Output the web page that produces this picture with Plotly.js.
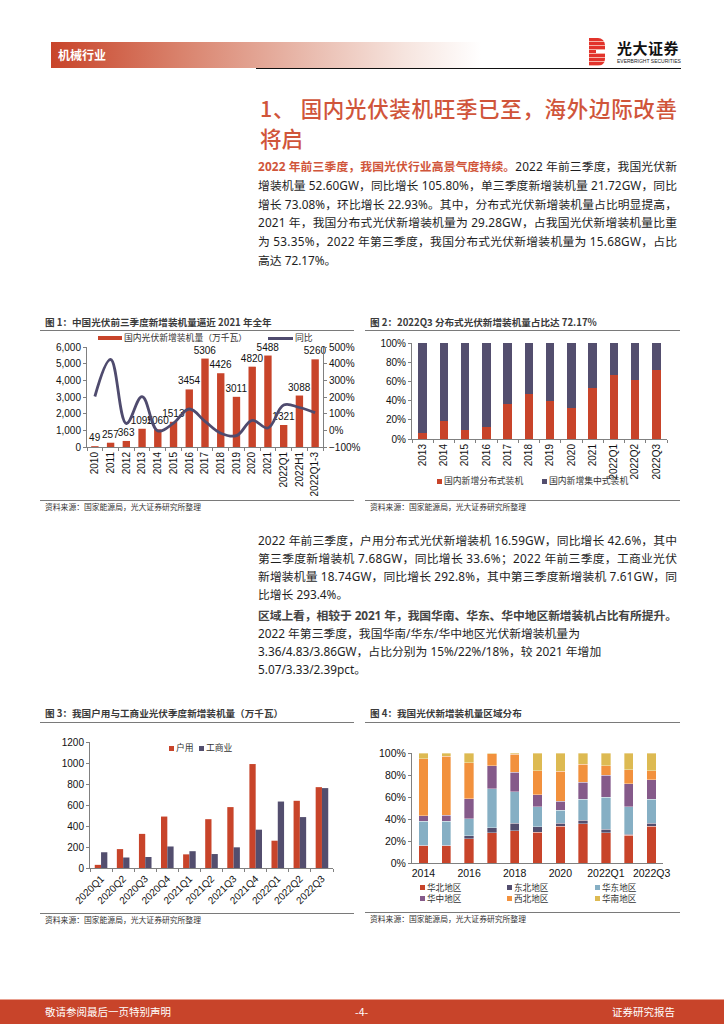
<!DOCTYPE html>
<html><head><meta charset="utf-8">
<script src="https://cdn.plot.ly/plotly-3.0.1.min.js"></script>
<style>
body{margin:0;width:724px;height:1024px;position:relative;background:#fff;font-family:"Noto Sans","Noto Sans CJK SC",sans-serif;overflow:hidden}
.abs{position:absolute}
.ln{position:absolute;left:258px;font-size:11.8px;line-height:18px;height:18px;color:#1e1e1e;white-space:nowrap}
.ft{position:absolute;font-family:"Noto Sans CJK SC",sans-serif;font-weight:bold;font-size:9.6px;color:#3a3a3a;white-space:nowrap;line-height:12px}
.src{position:absolute;font-family:"Noto Sans CJK SC",sans-serif;font-size:7.8px;color:#333;white-space:nowrap;line-height:10px}
.rule{position:absolute;height:0;border-top:1px solid #7a7a7a}
.lg{position:absolute;font-family:"Noto Sans CJK SC",sans-serif;font-size:8.8px;color:#333;white-space:nowrap;line-height:10px}
.lg4{position:absolute;font-family:"Noto Sans CJK SC",sans-serif;font-size:8.6px;color:#333;white-space:nowrap;line-height:10px}
.sq{position:absolute;width:5px;height:5px}
.chart{position:absolute}
</style>
</head><body>

<!-- header -->
<div class="abs" style="left:51px;top:42px;width:430px;height:26px;background:linear-gradient(to right,#C8442A 0%,#D9826C 30%,#E9BBAE 60%,#F6E4DE 82%,#ffffff 100%)"></div>
<div class="abs" style="left:58px;top:46px;font-family:'Noto Sans CJK SC';font-size:12px;font-weight:bold;color:#fff;line-height:18px">机械行业</div>
<div class="abs" style="left:256px;top:68px;width:425px;height:1.3px;background:#111"></div>
<div class="abs" style="left:589px;top:38px;width:16px;height:28px;background:repeating-linear-gradient(to bottom,#E2332B 0px,#E2332B 3px,#F6B3A8 3px,#F6B3A8 4px);border-radius:0 7px 7px 0"></div>
<div class="abs" style="left:596px;top:50px;width:9px;height:3px;background:#fff"></div>
<div class="abs" style="left:617px;top:38px;font-family:'Noto Sans CJK SC';font-size:15px;font-weight:bold;color:#111;line-height:20px;letter-spacing:0.5px">光大证券</div>
<div class="abs" style="left:617px;top:58px;font-family:'Liberation Sans';font-size:5px;color:#222;line-height:6px;white-space:nowrap">EVERBRIGHT SECURITIES</div>

<!-- heading -->
<div class="abs fit" data-w="417" style="left:260px;top:93px;font-family:'Noto Sans CJK SC';font-size:21.5px;font-weight:500;color:#D0553A;line-height:30px;white-space:nowrap">1、 国内光伏装机旺季已至，海外边际改善</div>
<div class="abs" style="left:260px;top:123px;font-family:'Noto Sans CJK SC';font-size:21.5px;font-weight:500;color:#D0553A;line-height:30px;white-space:nowrap">将启</div>

<!-- paragraph 1 -->
<div class="ln fit" data-w="419" style="top:157px"><b style="color:#D0553A">2022 年前三季度，我国光伏行业高景气度持续。</b>2022 年前三季度，我国光伏新</div>
<div class="ln fit" data-w="419" style="top:175.8px">增装机量 52.60GW，同比增长 105.80%，单三季度新增装机量 21.72GW，同比</div>
<div class="ln fit" data-w="419" style="top:194.6px">增长 73.08%，环比增长 22.93%。其中，分布式光伏新增装机量占比明显提高，</div>
<div class="ln fit" data-w="419" style="top:213.4px">2021 年，我国分布式光伏新增装机量为 29.28GW，占我国光伏新增装机量比重</div>
<div class="ln fit" data-w="419" style="top:232.2px">为 53.35%，2022 年第三季度，我国分布式光伏新增装机量为 15.68GW，占比</div>
<div class="ln" style="top:251px">高达 72.17%。</div>

<!-- figure titles 1,2 -->
<div class="ft" style="left:45px;top:316px">图 1：中国光伏前三季度新增装机量逼近 2021 年全年</div>
<div class="rule" style="left:40px;top:330px;width:314px"></div>
<div class="ft" style="left:370px;top:316px">图 2：2022Q3 分布式光伏新增装机量占比达 72.17%</div>
<div class="rule" style="left:365px;top:330px;width:315px"></div>

<div id="c1" class="chart" style="left:40px;top:322px;width:325px;height:178px"></div>
<div id="c2" class="chart" style="left:365px;top:322px;width:320px;height:178px"></div>

<!-- legend 1 -->
<div class="abs" style="left:98px;top:336px;width:24px;height:4px;background:#C8442A"></div>
<div class="lg" style="left:124px;top:333px">国内光伏新增装机量（万千瓦）</div>
<div class="abs" style="left:268px;top:337px;width:25px;height:2.5px;background:#4F4B6E"></div>
<div class="lg" style="left:295px;top:333px">同比</div>

<!-- legend 2 -->
<div class="sq" style="left:437px;top:479px;background:#C8442A"></div>
<div class="lg" style="left:444px;top:476px">国内新增分布式装机</div>
<div class="sq" style="left:542px;top:479px;background:#534E6E"></div>
<div class="lg" style="left:549px;top:476px">国内新增集中式装机</div>

<div class="rule" style="left:40px;top:500px;width:314px"></div>
<div class="src" style="left:45px;top:502px">资料来源：国家能源局，光大证券研究所整理</div>
<div class="rule" style="left:365px;top:500px;width:315px"></div>
<div class="src" style="left:370px;top:502px">资料来源：国家能源局，光大证券研究所整理</div>

<!-- paragraph 2 -->
<div class="ln fit" data-w="419" style="top:531px">2022 年前三季度，户用分布式光伏新增装机 16.59GW，同比增长 42.6%，其中</div>
<div class="ln fit" data-w="419" style="top:549px">第三季度新增装机 7.68GW，同比增长 33.6%；2022 年前三季度，工商业光伏</div>
<div class="ln fit" data-w="419" style="top:567px">新增装机量 18.74GW，同比增长 292.8%，其中第三季度新增装机 7.61GW，同</div>
<div class="ln" style="top:585px">比增长 293.4%。</div>
<div class="ln fit" data-w="419" style="top:606px;color:#444"><b>区域上看，相较于 2021 年，我国华南、华东、华中地区新增装机占比有所提升。</b></div>
<div class="ln" style="top:624px">2022 年第三季度，我国华南/华东/华中地区光伏新增装机量为</div>
<div class="ln" style="top:642px">3.36/4.83/3.86GW，占比分别为 15%/22%/18%，较 2021 年增加</div>
<div class="ln" style="top:660px">5.07/3.33/2.39pct。</div>

<!-- figure titles 3,4 -->
<div class="ft" style="left:45px;top:707px">图 3：我国户用与工商业光伏季度新增装机量（万千瓦）</div>
<div class="rule" style="left:40px;top:722px;width:314px"></div>
<div class="ft" style="left:370px;top:707px">图 4：我国光伏新增装机量区域分布</div>
<div class="rule" style="left:365px;top:722px;width:315px"></div>

<div id="c3" class="chart" style="left:40px;top:725px;width:320px;height:185px"></div>
<div id="c4" class="chart" style="left:365px;top:725px;width:320px;height:185px"></div>

<!-- legend 3 -->
<div class="sq" style="left:169px;top:746px;background:#C8442A"></div>
<div class="lg" style="left:176px;top:743px">户用</div>
<div class="sq" style="left:199px;top:746px;background:#534E6E"></div>
<div class="lg" style="left:206px;top:743px">工商业</div>

<!-- legend 4 -->
<div class="sq" style="left:420px;top:885px;background:#C8442A"></div>
<div class="lg4" style="left:427px;top:882px">华北地区</div>
<div class="sq" style="left:507px;top:885px;background:#534E6E"></div>
<div class="lg4" style="left:514px;top:882px">东北地区</div>
<div class="sq" style="left:595px;top:885px;background:#86AFC4"></div>
<div class="lg4" style="left:602px;top:882px">华东地区</div>
<div class="sq" style="left:420px;top:896px;background:#855A8A"></div>
<div class="lg4" style="left:427px;top:893px">华中地区</div>
<div class="sq" style="left:507px;top:896px;background:#F2913D"></div>
<div class="lg4" style="left:514px;top:893px">西北地区</div>
<div class="sq" style="left:595px;top:896px;background:#DDBA52"></div>
<div class="lg4" style="left:602px;top:893px">华南地区</div>

<div class="rule" style="left:40px;top:913px;width:314px"></div>
<div class="src" style="left:45px;top:915px">资料来源：国家能源局，光大证券研究所整理</div>
<div class="rule" style="left:365px;top:912px;width:315px"></div>
<div class="src" style="left:370px;top:914px">资料来源：国家能源局，光大证券研究所整理</div>

<!-- footer -->
<div class="abs" style="left:0;top:999px;width:724px;height:1px;background:#E9A090"></div>
<div class="abs" style="left:0;top:1000px;width:724px;height:24px;background:#C8442A"></div>
<div class="abs" style="left:45px;top:1004px;font-family:'Noto Sans CJK SC';font-size:10.5px;color:#fff;line-height:16px">敬请参阅最后一页特别声明</div>
<div class="abs" style="left:355px;top:1004px;font-family:'Noto Sans CJK SC';font-size:10.5px;color:#fff;line-height:16px">-4-</div>
<div class="abs" style="left:612px;top:1004px;font-family:'Noto Sans CJK SC';font-size:10.5px;color:#fff;line-height:16px">证券研究报告</div>

<script>
// ---------- data ----------
const c1Cats = ['2010','2011','2012','2013','2014','2015','2016','2017','2018','2019','2020','2021','2022Q1','2022H1','2022Q1-3'];
const c1Install = [49,257,363,1095,1060,1513,3454,5306,4426,3011,4820,5488,1321,3088,5260];
const c1Yoy = [203,425,41,202,-3,43,128,54,-17,-32,60,14,152,137,106];

const c2Cats = ['2013','2014','2015','2016','2017','2018','2019','2020','2021','2022Q1','2022Q2','2022Q3'];
const c2Distributed = [6,19,9,12,36,47,40,32,53,67,61,72];
const c2Centralized = [94,81,91,88,64,53,60,68,47,33,39,28];

const c3Cats = ['2020Q1','2020Q2','2020Q3','2020Q4','2021Q1','2021Q2','2021Q3','2021Q4','2022Q1','2022Q2','2022Q3'];
const c3Household = [30,180,325,490,130,465,580,990,260,640,770];
const c3Commercial = [150,100,105,205,160,133,197,365,633,485,761];

const c4Cats = ['2014','2015','2016','2017','2018','2019','2020','2021','2022Q1','2022Q2','2022Q3'];
const c4TickLabels = ['2014','2016','2018','2020','2022Q1','2022Q3'];
const c4North = [15.5,15.5,22.0,27.4,29.2,28.0,33.3,35.7,27.4,25.4,33.3];
const c4Northeast = [0.5,0.5,2.7,4.5,6.8,5.0,3.0,3.2,3.3,0.9,2.7];
const c4East = [22.0,22.0,15.6,35.4,28.9,18.0,11.5,19.2,29.2,25.0,22.1];
const c4Central = [5.0,5.5,18.0,20.9,17.7,11.0,8.2,15.4,19.7,20.7,17.7];
const c4Northwest = [52.0,53.5,32.8,10.9,16.2,22.0,27.2,16.2,8.6,13.0,8.0];
const c4South = [5.0,3.0,8.9,0.9,1.2,16.0,16.8,10.3,11.8,15.0,16.2];

// ---------- styles ----------
const RED='#C8442A', SLATE='#534E6E', BLUE='#86AFC4', PURPLE='#855A8A', ORANGE='#F2913D', YELLOW='#DDBA52';
const AX='#808080';
const baseFont={family:'Liberation Sans, Arial, sans-serif',size:10,color:'#111'};
const cfg={staticPlot:true,displayModeBar:false};
function axis(extra){return Object.assign({showline:true,linecolor:AX,linewidth:1,ticks:'outside',ticklen:3,tickcolor:AX,showgrid:false,zeroline:false,fixedrange:true},extra);}

// chart 1
Plotly.newPlot('c1',[
  {type:'bar',x:c1Cats,y:c1Install,marker:{color:RED},text:c1Install.map(String),textposition:'outside',
   constraintext:'none',cliponaxis:false,textfont:{family:'Liberation Sans, Arial',size:10,color:'#111'},hoverinfo:'none'},
  {type:'scatter',mode:'lines',x:c1Cats,y:c1Yoy,yaxis:'y2',line:{shape:'spline',smoothing:1.1,color:'#4F4B6E',width:2.8},hoverinfo:'none'}
],{
  width:325,height:178,margin:{l:47,r:42,t:25,b:53},paper_bgcolor:'rgba(0,0,0,0)',plot_bgcolor:'rgba(0,0,0,0)',
  showlegend:false,bargap:0.53,font:baseFont,
  xaxis:axis({type:'category',tickangle:-90,tickson:'boundaries',ticklen:3}),
  yaxis:axis({range:[0,6000],dtick:1000,tickformat:','}),
  yaxis2:axis({overlaying:'y',side:'right',range:[-100,500],dtick:100,ticksuffix:'%'})
},cfg);

// chart 2
Plotly.newPlot('c2',[
  {type:'bar',x:c2Cats,y:c2Distributed,marker:{color:RED},hoverinfo:'none'},
  {type:'bar',x:c2Cats,y:c2Centralized,marker:{color:SLATE},hoverinfo:'none'}
],{
  width:320,height:178,margin:{l:47,r:18,t:21,b:61},paper_bgcolor:'rgba(0,0,0,0)',plot_bgcolor:'rgba(0,0,0,0)',
  showlegend:false,barmode:'stack',bargap:0.6,font:baseFont,
  xaxis:axis({type:'category',tickangle:-90,tickson:'boundaries'}),
  yaxis:axis({range:[0,100],dtick:20,ticksuffix:'%'})
},cfg);

// chart 3
Plotly.newPlot('c3',[
  {type:'bar',x:c3Cats,y:c3Household,marker:{color:RED},hoverinfo:'none'},
  {type:'bar',x:c3Cats,y:c3Commercial,marker:{color:SLATE},hoverinfo:'none'}
],{
  width:320,height:185,margin:{l:50,r:27,t:17,b:42},paper_bgcolor:'rgba(0,0,0,0)',plot_bgcolor:'rgba(0,0,0,0)',
  showlegend:false,barmode:'group',bargap:0.43,bargroupgap:0,font:baseFont,
  xaxis:axis({type:'category',tickangle:-45,tickson:'boundaries'}),
  yaxis:axis({range:[0,1200],dtick:200})
},cfg);

// chart 4
const segLine={color:'rgba(255,255,255,0.7)',width:0.5};
Plotly.newPlot('c4',[
  {type:'bar',x:c4Cats,y:c4North,marker:{color:RED,line:segLine},hoverinfo:'none'},
  {type:'bar',x:c4Cats,y:c4Northeast,marker:{color:SLATE,line:segLine},hoverinfo:'none'},
  {type:'bar',x:c4Cats,y:c4East,marker:{color:BLUE,line:segLine},hoverinfo:'none'},
  {type:'bar',x:c4Cats,y:c4Central,marker:{color:PURPLE,line:segLine},hoverinfo:'none'},
  {type:'bar',x:c4Cats,y:c4Northwest,marker:{color:ORANGE,line:segLine},hoverinfo:'none'},
  {type:'bar',x:c4Cats,y:c4South,marker:{color:YELLOW,line:segLine},hoverinfo:'none'}
],{
  width:320,height:185,margin:{l:47,r:22,t:28,b:47},paper_bgcolor:'rgba(0,0,0,0)',plot_bgcolor:'rgba(0,0,0,0)',
  showlegend:false,barmode:'stack',bargap:0.59,font:Object.assign({},baseFont,{size:10.5}),
  xaxis:axis({type:'category',tickvals:c4TickLabels,ticktext:c4TickLabels,tickangle:0,ticks:''}),
  yaxis:axis({range:[0,100],dtick:20,ticksuffix:'%'})
},cfg);

// justify text lines to exact widths
document.querySelectorAll('.fit').forEach(el=>{
  const target=parseFloat(el.dataset.w);
  el.style.display='inline-block';
  const w=el.getBoundingClientRect().width;
  const n=el.textContent.length;
  if(n>1) el.style.letterSpacing=((target-w)/(n-1))+'px';
});
</script>
</body></html>
